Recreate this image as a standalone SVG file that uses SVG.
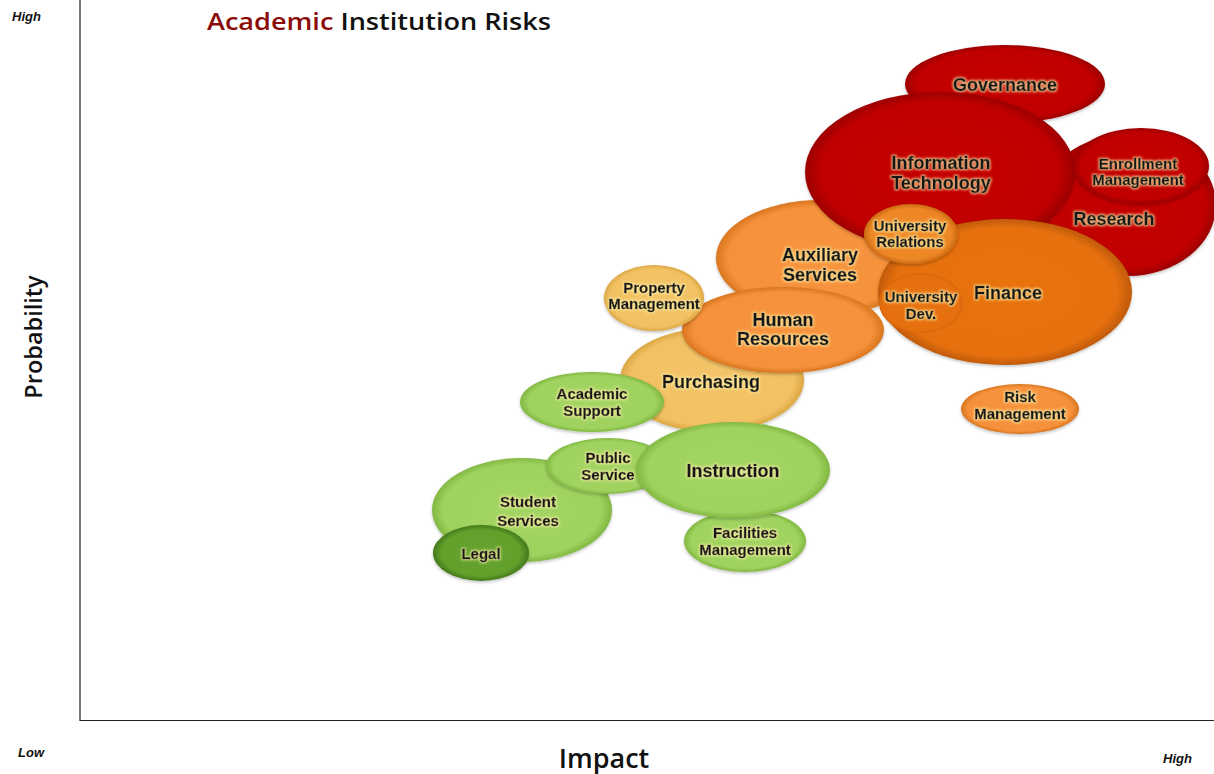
<svg xmlns="http://www.w3.org/2000/svg" width="1214" height="774" viewBox="0 0 1214 774">
<defs>
<radialGradient id="gRed" cx="50%" cy="50%" r="50%"><stop offset="0" stop-color="#c40000"/><stop offset="0.88" stop-color="#c00000"/><stop offset="1" stop-color="#9c0000"/></radialGradient>
<radialGradient id="gFin" cx="50%" cy="50%" r="50%"><stop offset="0" stop-color="#e8730f"/><stop offset="0.88" stop-color="#e6700e"/><stop offset="1" stop-color="#c05a07"/></radialGradient>
<radialGradient id="gFinFlat" cx="50%" cy="50%" r="50%"><stop offset="0" stop-color="#e7710e"/><stop offset="0.9" stop-color="#e6700e"/><stop offset="1" stop-color="#da660b"/></radialGradient>
<radialGradient id="gUR" cx="50%" cy="50%" r="50%"><stop offset="0" stop-color="#ef8a28"/><stop offset="0.85" stop-color="#ed8726"/><stop offset="1" stop-color="#cc6a12"/></radialGradient>
<radialGradient id="gAux" cx="50%" cy="50%" r="50%"><stop offset="0" stop-color="#f7943e"/><stop offset="0.88" stop-color="#f6913a"/><stop offset="1" stop-color="#d8761f"/></radialGradient>
<radialGradient id="gLo" cx="50%" cy="50%" r="50%"><stop offset="0" stop-color="#f3c468"/><stop offset="0.88" stop-color="#f2c163"/><stop offset="1" stop-color="#dca844"/></radialGradient>
<radialGradient id="gGr" cx="50%" cy="50%" r="50%"><stop offset="0" stop-color="#a2d563"/><stop offset="0.88" stop-color="#9fd25f"/><stop offset="1" stop-color="#82b842"/></radialGradient>
<radialGradient id="gDk" cx="50%" cy="50%" r="50%"><stop offset="0" stop-color="#66a42e"/><stop offset="0.82" stop-color="#62a02c"/><stop offset="1" stop-color="#44791b"/></radialGradient>
<filter id="sh" x="-10%" y="-10%" width="120%" height="125%"><feDropShadow dx="0" dy="1.5" stdDeviation="1.5" flood-color="#000" flood-opacity="0.25"/></filter>
<filter id="glow" x="-10%" y="-30%" width="120%" height="160%"><feMorphology in="SourceAlpha" operator="dilate" radius="1" result="d"/><feGaussianBlur in="d" stdDeviation="1.2" result="b"/><feFlood flood-color="#fff0a8" flood-opacity="0.7"/><feComposite in2="b" operator="in" result="g"/><feMerge><feMergeNode in="g"/><feMergeNode in="SourceGraphic"/></feMerge></filter>
</defs>
<style>
.l{font-family:"Liberation Sans",Arial,sans-serif;font-weight:bold;fill:#151515;stroke:#151515;stroke-width:0.45px;text-anchor:middle;filter:url(#glow)}
.b{font-size:18px}
.s{font-size:15px}
.ax{font-family:"Open Sans","Liberation Sans",sans-serif;font-weight:600;fill:#111}
.hl{font-family:"Liberation Sans",Arial,sans-serif;font-weight:bold;font-style:italic;font-size:13px;fill:#111}
ellipse{filter:url(#sh)}
</style>
<rect width="1214" height="774" fill="#fff"/>
<g id="axes" stroke="#222" stroke-width="1.2" fill="none">
<line x1="80" y1="0" x2="80" y2="721"/>
<line x1="80" y1="720.5" x2="1214" y2="720.5"/>
</g>
<g id="labels">
<text x="12" y="21" class="hl">High</text>
<text x="18" y="757" class="hl">Low</text>
<text x="1163" y="763" class="hl">High</text>
<text x="604" y="768" class="ax" font-size="27" text-anchor="middle">Impact</text>
<text transform="translate(42,337) rotate(-90)" class="ax" font-size="23.5" text-anchor="middle" font-weight="700">Probability</text>
<text x="207" y="30" class="ax" font-size="23" textLength="344" lengthAdjust="spacingAndGlyphs"><tspan fill="#8b0a0a">Academic</tspan> Institution Risks</text>
</g>
<g id="governance"><ellipse cx="1005" cy="84" rx="100" ry="39" fill="url(#gRed)"/><text class="l b" x="1005" y="91">Governance</text></g>
<g id="research"><ellipse cx="1128" cy="205" rx="88" ry="71" fill="url(#gRed)"/><text class="l b" x="1114" y="225">Research</text></g>
<g id="auxiliary-services"><ellipse cx="820" cy="258" rx="104" ry="58" fill="url(#gAux)"/><text class="l b" x="820" y="261">Auxiliary</text><text class="l b" x="820" y="281">Services</text></g>
<g id="information-technology"><ellipse cx="940" cy="172" rx="135" ry="80" fill="url(#gRed)"/><text class="l b" x="941" y="169">Information</text><text class="l b" x="941" y="189">Technology</text></g>
<g id="enrollment-management"><ellipse cx="1141" cy="166" rx="68" ry="38" fill="url(#gRed)"/><text class="l s" x="1138" y="169">Enrollment</text><text class="l s" x="1138" y="185">Management</text></g>
<g id="finance"><ellipse cx="1005" cy="292" rx="127" ry="73" fill="url(#gFin)"/><text class="l b" x="1008" y="299">Finance</text></g>
<g id="university-dev"><ellipse cx="921" cy="303" rx="42" ry="30" fill="url(#gFinFlat)" style="filter:none"/><text class="l s" x="921" y="302">University</text><text class="l s" x="921" y="319">Dev.</text></g>
<g id="university-relations"><ellipse cx="911" cy="234" rx="47" ry="30" fill="url(#gUR)"/><text class="l s" x="910" y="231">University</text><text class="l s" x="910" y="247">Relations</text></g>
<g id="purchasing"><ellipse cx="712" cy="380" rx="92" ry="52" fill="url(#gLo)"/><text class="l b" x="711" y="388">Purchasing</text></g>
<g id="human-resources"><ellipse cx="783" cy="330" rx="101" ry="43" fill="url(#gAux)"/><text class="l b" x="783" y="326">Human</text><text class="l b" x="783" y="345">Resources</text></g>
<g id="property-management"><ellipse cx="654" cy="298" rx="50" ry="33" fill="url(#gLo)"/><text class="l s" x="654" y="293">Property</text><text class="l s" x="654" y="309">Management</text></g>
<g id="academic-support"><ellipse cx="592" cy="402" rx="72" ry="30" fill="url(#gGr)"/><text class="l s" x="592" y="399">Academic</text><text class="l s" x="592" y="416">Support</text></g>
<g id="student-services"><ellipse cx="522" cy="510" rx="90" ry="52" fill="url(#gGr)"/><text class="l s" x="528" y="507" font-size="16">Student</text><text class="l s" x="528" y="526" font-size="16">Services</text></g>
<g id="public-service"><ellipse cx="608" cy="466" rx="62" ry="28" fill="url(#gGr)"/><text class="l s" x="608" y="463">Public</text><text class="l s" x="608" y="480">Service</text></g>
<g id="facilities-management"><ellipse cx="745" cy="541" rx="61" ry="31" fill="url(#gGr)"/><text class="l s" x="745" y="538">Facilities</text><text class="l s" x="745" y="555">Management</text></g>
<g id="instruction"><ellipse cx="733" cy="470" rx="97" ry="48" fill="url(#gGr)"/><text class="l b" x="733" y="477">Instruction</text></g>
<g id="legal"><ellipse cx="481" cy="553" rx="48" ry="28" fill="url(#gDk)"/><text class="l s" x="481" y="559">Legal</text></g>
<g id="risk-management"><ellipse cx="1020" cy="409" rx="59" ry="25" fill="url(#gAux)"/><text class="l s" x="1020" y="402">Risk</text><text class="l s" x="1020" y="419">Management</text></g>
<g id="connectors"/>
</svg>
